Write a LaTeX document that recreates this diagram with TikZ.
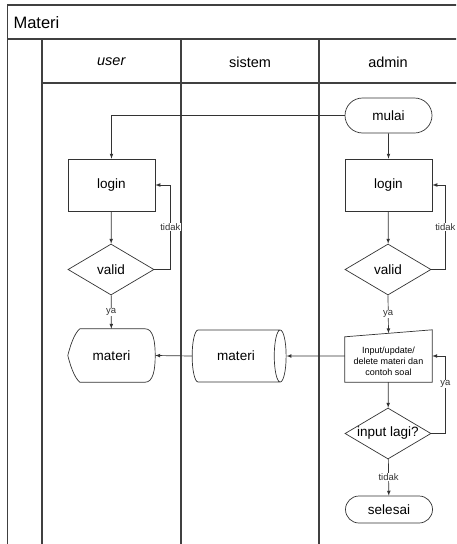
\documentclass[tikz,border=0pt]{standalone}
\usepackage{fontspec}
\setmainfont{Liberation Sans}
\usetikzlibrary{shapes,arrows,positioning}

\begin{document}
\begin{tikzpicture}[x=1pt,y=-1pt]
	\tikzstyle{Lane}	= [line width=1.3pt, black!75]
	\tikzstyle{Shape}	= [line width=0.7pt, draw=black!80]
	\tikzstyle{Box}		= [rectangle, draw, Shape, minimum width=87pt, minimum height=52pt, inner sep=0pt, font=\fontsize{13.5}{16}\selectfont]
	\tikzstyle{Cek}		= [diamond, draw, Shape, aspect=1.69, minimum width=86pt, minimum height=51pt, inner sep=0pt, font=\fontsize{13.5}{16}\selectfont]
	\tikzstyle{Ujung}	= [rounded rectangle, draw, Shape, minimum width=87pt, inner sep=0pt, font=\fontsize{13.5}{16}\selectfont]
	\tikzstyle{Free}	= [minimum width=87pt, minimum height=52pt, inner sep=0pt, font=\fontsize{13.5}{16}\selectfont]
	\tikzstyle{Flow}	= [-latex, line width=0.7pt, draw=black!80]
	\tikzstyle{Lbl}		= [fill=white, inner sep=0.5pt, font=\fontsize{9.5}{10}\selectfont, text=black!80]
	
	\useasboundingbox (0,0) rectangle (456,544);
	\clip (0,0) rectangle (456,544);
	
	% swimlanes
	\draw [Lane] (460,5) -- (7.5,5) -- (7.5,548);
	\draw [Lane] (7.5,39) -- (460,39);
	\draw [Lane] (42,83) -- (460,83);
	\foreach \x in {42, 181, 319}
		\draw [Lane] (\x,39) -- (\x,548);
	\node (judul) at (10,23) [anchor=west, font=\fontsize{16.5}{18}\selectfont] {Materi};
	\foreach \x/\t in {111.5/\textit{user}, 250/sistem, 388/admin}
		\node at (\x,62) [font=\fontsize{14.5}{16}\selectfont] {\t};
	
	% admin
	\node (mulai) at (388.5,115.5) [Ujung, minimum height=35pt] {mulai};
	\node (aLogin) at (388.5,185) [Box] {login};
	\node (aValid) at (388,269.5) [Cek] {valid};
	\node (input) at (388.5,356) [Free] {};
	\draw [Shape] ([yshift=-7pt]input.north west) -- (input.north east) -- (input.south east) -- (input.south west) -- cycle;
	\node at (388.5,361) [align=center, font=\fontsize{9}{11}\selectfont] {Input/update/\\delete materi dan\\contoh soal};
	\node (lagi) at (388,433.5) [Cek] {input lagi?};
	\node (selesai) at (389,509.5) [Ujung, minimum height=27pt] {selesai};
	
	% user
	\node (uLogin) at (111.5,185) [Box] {login};
	\node (uValid) at (111,269.5) [Cek] {valid};
	\node (uMateri) at (111.5,355.5) [Free, minimum height=53pt] {materi};
	\draw [Shape] ([xshift=12pt]uMateri.north west) -- ([xshift=-10pt]uMateri.north east)
		.. controls ([xshift=-2pt]uMateri.north east) and ([yshift=14pt]uMateri.east) .. (uMateri.east)
		.. controls ([yshift=-14pt]uMateri.east) and ([xshift=-2pt]uMateri.south east) .. ([xshift=-10pt]uMateri.south east)
		-- ([xshift=12pt]uMateri.south west)
		.. controls ([xshift=6pt,yshift=5pt]uMateri.south west) and ([xshift=2pt,yshift=-8pt]uMateri.west) .. (uMateri.west)
		.. controls ([xshift=2pt,yshift=8pt]uMateri.west) and ([xshift=6pt,yshift=-5pt]uMateri.north west) .. ([xshift=12pt]uMateri.north west);
	
	% sistem
	\node (sMateri) at (236,356) [cylinder, draw, Shape, aspect=1.2, minimum width=52pt, minimum height=94pt, inner sep=0pt, font=\fontsize{13.5}{16}\selectfont] {materi};
	
	% connectors
	\draw [Flow] (mulai) -- (aLogin);
	\draw [Flow] (mulai.west) -| (uLogin.north);
	\draw [Flow] (uLogin) -- (uValid);
	\draw [Flow] (uValid.east) -- ++(16,0) |- node [Lbl, pos=0.25] {tidak} (uLogin.east);
	\draw [Flow] (uValid) -- node [Lbl] {ya} (uMateri);
	\draw [Flow] (aLogin) -- (aValid);
	\draw [Flow] (aValid.east) -- ++(14,0) |- node [Lbl, pos=0.25] {tidak} (aLogin.east);
	\draw [Flow] (aValid.south) -- node [Lbl] {ya} ([yshift=-3.5pt]input.north);
	\draw [Flow] (input.west) -- (sMateri.east);
	\draw [Flow] (sMateri.west) -- (uMateri.east);
	\draw [Flow] (input) -- (lagi);
	\draw [Flow] (lagi.east) -- ++(14,0) |- node [Lbl, pos=0.32] {ya} (input.east);
	\draw [Flow] (lagi) -- node [Lbl] {tidak} (selesai);
\end{tikzpicture}
\end{document}
